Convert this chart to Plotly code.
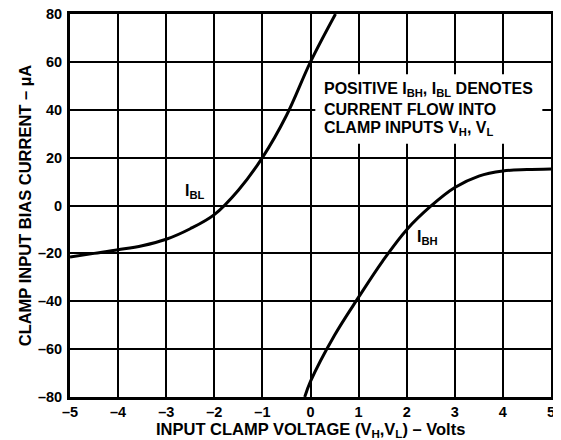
import plotly.graph_objects as go

# Data
ibl_x = [-5, -4.5, -4, -3.5, -3, -2.5, -2, -1.5, -1, -0.5, 0, 0.52]
ibl_y = [-21.5, -20.0, -18.5, -16.8, -14.1, -9.7, -3.8, 6.4, 20, 37.6, 60, 80]

ibh_x = [-0.12, 0, 0.5, 1, 1.5, 2, 2.5, 3, 3.5, 4, 4.5, 5]
ibh_y = [-80, -73.5, -54.2, -38.3, -23.2, -10.1, -0.3, 7.5, 12.3, 14.4, 15.0, 15.3]

x_ticks = [-5, -4, -3, -2, -1, 0, 1, 2, 3, 4, 5]
x_tick_labels = ["–5", "–4", "–3", "–2", "–1", "0", "1", "2", "3", "4", "5"]
y_ticks = [-80, -60, -40, -20, 0, 20, 40, 60, 80]
y_tick_labels = ["–80", "–60", "–40", "–20", "0", "20", "40", "60", "80"]

note_lines = [
    "<b>POSITIVE I<sub>BH</sub>, I<sub>BL</sub> DENOTES</b>",
    "<b>CURRENT FLOW INTO</b>",
    "<b>CLAMP INPUTS V<sub>H</sub>, V<sub>L</sub></b>",
]
note_y = [48.4, 40.3, 32.0]

x_title = "<b>INPUT CLAMP VOLTAGE (V<sub>H</sub>,V<sub>L</sub>) – Volts</b>"
y_title = "<b>CLAMP INPUT BIAS CURRENT – µA</b>"

FONT = "Liberation Sans, Arial, Helvetica, sans-serif"

fig = go.Figure()
fig.add_trace(go.Scatter(x=ibl_x, y=ibl_y, mode="lines",
                         line=dict(color="black", width=3, shape="spline", smoothing=1.0),
                         showlegend=False, hoverinfo="skip"))
fig.add_trace(go.Scatter(x=ibh_x, y=ibh_y, mode="lines",
                         line=dict(color="black", width=3, shape="spline", smoothing=1.0),
                         showlegend=False, hoverinfo="skip"))

# white box behind note
fig.add_shape(type="rect", xref="x", yref="y", x0=0.1, x1=4.82, y0=25.8, y1=54.8,
              fillcolor="white", line=dict(width=0), layer="between")

for t, yy in zip(note_lines, note_y):
    fig.add_annotation(x=0.24, y=yy, xref="x", yref="y", text=t, showarrow=False,
                       xanchor="left", yanchor="middle",
                       font=dict(family=FONT, size=16, color="black"))

fig.add_annotation(x=-2.4, y=6, xref="x", yref="y", text="<b>I<sub>BL</sub></b>",
                   showarrow=False, font=dict(family=FONT, size=16, color="black"))
fig.add_annotation(x=2.43, y=-13.2, xref="x", yref="y", text="<b>I<sub>BH</sub></b>",
                   showarrow=False, font=dict(family=FONT, size=16, color="black"))

# axis titles
fig.add_annotation(x=0.5, y=-0.086, xref="paper", yref="paper", text=x_title,
                   showarrow=False, xanchor="center", yanchor="middle",
                   font=dict(family=FONT, size=16.5, color="black"))
fig.add_annotation(x=-0.094, y=0.5, xref="paper", yref="paper", text=y_title,
                   showarrow=False, xanchor="center", yanchor="middle", textangle=-90,
                   font=dict(family=FONT, size=16.5, color="black"))

axis_common = dict(showgrid=True, gridcolor="black", gridwidth=1.5, zeroline=False,
                   showline=True, linecolor="black", linewidth=3, mirror=True,
                   ticks="", automargin=False, ticklabeloverflow="allow",
                   tickfont=dict(family=FONT, size=14.5, color="black"))

fig.update_xaxes(range=[-5, 5], tickvals=x_ticks,
                 ticktext=["<b>%s</b>" % s for s in x_tick_labels],
                 ticklabelstandoff=0, **axis_common)
fig.update_yaxes(range=[-80, 80], tickvals=y_ticks,
                 ticktext=["<b>%s</b>" % s for s in y_tick_labels],
                 ticklabelstandoff=2, **axis_common)

# page body has an 8px margin, so the figure is sized/offset to compensate
fig.update_layout(width=553, height=432, margin=dict(l=62, r=10, t=6, b=43),
                  paper_bgcolor="white", plot_bgcolor="white",
                  font=dict(family=FONT, color="black"))

fig.write_html("out.html")
